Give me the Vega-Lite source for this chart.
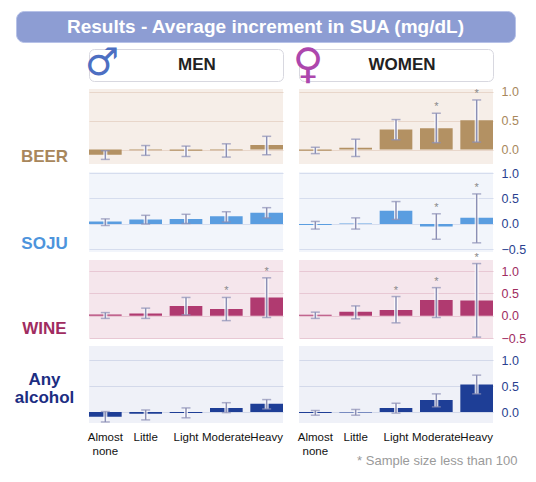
{
  "$schema": "https://vega.github.io/schema/vega-lite/v6.json",
  "background": "#ffffff",
  "padding": {"left": 14, "top": 10, "right": 5, "bottom": 0},
  "spacing": 0,
  "config": {
    "view": {"stroke": null},
    "font": "Liberation Sans",
    "axis": {"domain": false, "ticks": false, "labelOverlap": false, "gridOpacity": 1}
  },
  "datasets": {
    "d": [
      {"drink": "Beer", "sex": "Men", "level": "Almost none", "v": -0.09, "lo": -0.17, "hi": -0.02, "small": false},
      {"drink": "Beer", "sex": "Men", "level": "Little", "v": -0.01, "lo": -0.10, "hi": 0.07, "small": false},
      {"drink": "Beer", "sex": "Men", "level": "Light", "v": -0.02, "lo": -0.12, "hi": 0.06, "small": false},
      {"drink": "Beer", "sex": "Men", "level": "Moderate", "v": -0.01, "lo": -0.13, "hi": 0.10, "small": false},
      {"drink": "Beer", "sex": "Men", "level": "Heavy", "v": 0.08, "lo": -0.09, "hi": 0.23, "small": false},
      {"drink": "Beer", "sex": "Women", "level": "Almost none", "v": -0.02, "lo": -0.07, "hi": 0.04, "small": false},
      {"drink": "Beer", "sex": "Women", "level": "Little", "v": 0.03, "lo": -0.12, "hi": 0.18, "small": false},
      {"drink": "Beer", "sex": "Women", "level": "Light", "v": 0.35, "lo": 0.17, "hi": 0.52, "small": false},
      {"drink": "Beer", "sex": "Women", "level": "Moderate", "v": 0.37, "lo": 0.12, "hi": 0.63, "small": true},
      {"drink": "Beer", "sex": "Women", "level": "Heavy", "v": 0.51, "lo": 0.13, "hi": 0.86, "small": true},
      {"drink": "Soju", "sex": "Men", "level": "Almost none", "v": 0.05, "lo": -0.03, "hi": 0.10, "small": false},
      {"drink": "Soju", "sex": "Men", "level": "Little", "v": 0.09, "lo": 0.00, "hi": 0.17, "small": false},
      {"drink": "Soju", "sex": "Men", "level": "Light", "v": 0.10, "lo": 0.01, "hi": 0.19, "small": false},
      {"drink": "Soju", "sex": "Men", "level": "Moderate", "v": 0.15, "lo": 0.04, "hi": 0.24, "small": false},
      {"drink": "Soju", "sex": "Men", "level": "Heavy", "v": 0.22, "lo": 0.12, "hi": 0.32, "small": false},
      {"drink": "Soju", "sex": "Women", "level": "Almost none", "v": -0.02, "lo": -0.10, "hi": 0.05, "small": false},
      {"drink": "Soju", "sex": "Women", "level": "Little", "v": 0.01, "lo": -0.10, "hi": 0.12, "small": false},
      {"drink": "Soju", "sex": "Women", "level": "Light", "v": 0.26, "lo": 0.09, "hi": 0.44, "small": false},
      {"drink": "Soju", "sex": "Women", "level": "Moderate", "v": -0.05, "lo": -0.30, "hi": 0.20, "small": true},
      {"drink": "Soju", "sex": "Women", "level": "Heavy", "v": 0.12, "lo": -0.37, "hi": 0.59, "small": true},
      {"drink": "Wine", "sex": "Men", "level": "Almost none", "v": 0.03, "lo": -0.06, "hi": 0.07, "small": false},
      {"drink": "Wine", "sex": "Men", "level": "Little", "v": 0.05, "lo": -0.06, "hi": 0.17, "small": false},
      {"drink": "Wine", "sex": "Men", "level": "Light", "v": 0.22, "lo": 0.02, "hi": 0.41, "small": false},
      {"drink": "Wine", "sex": "Men", "level": "Moderate", "v": 0.15, "lo": -0.11, "hi": 0.41, "small": true},
      {"drink": "Wine", "sex": "Men", "level": "Heavy", "v": 0.41, "lo": -0.04, "hi": 0.85, "small": true},
      {"drink": "Wine", "sex": "Women", "level": "Almost none", "v": 0.02, "lo": -0.06, "hi": 0.08, "small": false},
      {"drink": "Wine", "sex": "Women", "level": "Little", "v": 0.09, "lo": -0.07, "hi": 0.22, "small": false},
      {"drink": "Wine", "sex": "Women", "level": "Light", "v": 0.13, "lo": -0.16, "hi": 0.43, "small": true},
      {"drink": "Wine", "sex": "Women", "level": "Moderate", "v": 0.35, "lo": -0.04, "hi": 0.63, "small": true},
      {"drink": "Wine", "sex": "Women", "level": "Heavy", "v": 0.34, "lo": -0.48, "hi": 1.17, "small": true},
      {"drink": "Any", "sex": "Men", "level": "Almost none", "v": -0.09, "lo": -0.19, "hi": 0.01, "small": false},
      {"drink": "Any", "sex": "Men", "level": "Little", "v": -0.03, "lo": -0.15, "hi": 0.04, "small": false},
      {"drink": "Any", "sex": "Men", "level": "Light", "v": -0.02, "lo": -0.11, "hi": 0.08, "small": false},
      {"drink": "Any", "sex": "Men", "level": "Moderate", "v": 0.08, "lo": -0.01, "hi": 0.18, "small": false},
      {"drink": "Any", "sex": "Men", "level": "Heavy", "v": 0.16, "lo": 0.06, "hi": 0.24, "small": false},
      {"drink": "Any", "sex": "Women", "level": "Almost none", "v": -0.02, "lo": -0.06, "hi": 0.03, "small": false},
      {"drink": "Any", "sex": "Women", "level": "Little", "v": -0.01, "lo": -0.06, "hi": 0.05, "small": false},
      {"drink": "Any", "sex": "Women", "level": "Light", "v": 0.08, "lo": -0.02, "hi": 0.17, "small": false},
      {"drink": "Any", "sex": "Women", "level": "Moderate", "v": 0.23, "lo": 0.10, "hi": 0.35, "small": false},
      {"drink": "Any", "sex": "Women", "level": "Heavy", "v": 0.53, "lo": 0.35, "hi": 0.71, "small": false}
    ]
  },
  "vconcat": [
    {
      "width": 499, "height": 31,
      "view": {"fill": "#8d9dd3", "stroke": "#b7c2e8", "cornerRadius": 8},
      "data": {"values": [{"t": "Results - Average increment in SUA (mg/dL)"}]},
      "mark": {"type": "text", "color": "white", "fontSize": 19, "fontWeight": "bold", "baseline": "middle"},
      "encoding": {"text": {"field": "t"}}
    },
    {
      "columns": 3,
      "bounds": "flush",
      "spacing": {"row": 8, "column": 16},
      "concat": [
        {
          "width": 57, "height": 32,
          "data": {"values": [{"t": ""}]},
          "mark": "text",
          "encoding": {"text": {"field": "t"}}
        },
        {
          "width": 194, "height": 32,
          "view": {"fill": "white", "stroke": "#d8d8e0", "cornerRadius": 5},
          "data": {"values": [{"t": "MEN", "s": "♂"}]},
          "layer": [
            {"mark": {"type": "text", "fontSize": 17, "fontWeight": "bold", "color": "#222", "baseline": "middle", "dx": 11}, "encoding": {"text": {"field": "t"}}},
            {"mark": {"type": "text", "fontSize": 38, "font": "DejaVu Sans", "color": "#4d6fc2", "baseline": "middle", "dx": -84, "dy": -1}, "encoding": {"text": {"field": "s"}}}
          ]
        },
        {
          "width": 194, "height": 32,
          "view": {"fill": "white", "stroke": "#d8d8e0", "cornerRadius": 5},
          "data": {"values": [{"t": "WOMEN", "s": "♀"}]},
          "layer": [
            {"mark": {"type": "text", "fontSize": 17, "fontWeight": "bold", "color": "#222", "baseline": "middle", "dx": 6}, "encoding": {"text": {"field": "t"}}},
            {"mark": {"type": "text", "fontSize": 42, "font": "DejaVu Sans", "color": "#ad47ad", "baseline": "middle", "dx": -88, "dy": 0}, "encoding": {"text": {"field": "s"}}}
          ]
        },
        {
          "width": 57, "height": 75,
          "data": {"values": [{"t": "BEER"}]},
          "mark": {"type": "text", "fontSize": 17, "fontWeight": "bold", "color": "#a8875c", "baseline": "middle", "dy": 30},
          "encoding": {"text": {"field": "t"}}
        },
        {
          "width": 194, "height": 75,
          "view": {"fill": "#f6eee8"},
          "data": {"name": "d"},
          "transform": [{"filter": "datum.drink == 'Beer' && datum.sex == 'Men'"}],
          "encoding": {"x": {"field": "level", "type": "nominal", "sort": ["Almost none", "Little", "Light", "Moderate", "Heavy"], "axis": null, "scale": {"paddingInner": 0.19, "paddingOuter": 0}}},
          "layer": [
            {"mark": {"type": "bar", "color": "#b39163"}, "encoding": {"y": {"field": "v", "type": "quantitative", "title": null, "scale": {"domain": [-0.25, 1.05], "nice": false, "zero": false}, "axis": {"values": [0, 0.5, 1], "tickCount": 10, "labels": false, "gridColor": "#e8d6ca"}}}},
            {"mark": {"type": "rule", "color": "white", "strokeWidth": 4, "opacity": 0.8}, "encoding": {"y": {"field": "lo", "type": "quantitative", "title": null}, "y2": {"field": "hi"}}},
            {"mark": {"type": "rule", "color": "#8b8fb5", "strokeWidth": 1.5}, "encoding": {"y": {"field": "lo", "type": "quantitative", "title": null}, "y2": {"field": "hi"}}},
            {"mark": {"type": "tick", "color": "#8b8fb5", "thickness": 1.5, "size": 9}, "encoding": {"y": {"field": "lo", "type": "quantitative", "title": null}}},
            {"mark": {"type": "tick", "color": "#8b8fb5", "thickness": 1.5, "size": 9}, "encoding": {"y": {"field": "hi", "type": "quantitative", "title": null}}},
            {"transform": [{"filter": "datum.small"}], "mark": {"type": "text", "text": "*", "color": "#888", "fontSize": 11, "baseline": "bottom", "dy": -1}, "encoding": {"y": {"field": "hi", "type": "quantitative", "title": null}}}
          ]
        },
        {
          "width": 194, "height": 75,
          "view": {"fill": "#f6eee8"},
          "data": {"name": "d"},
          "transform": [{"filter": "datum.drink == 'Beer' && datum.sex == 'Women'"}],
          "encoding": {"x": {"field": "level", "type": "nominal", "sort": ["Almost none", "Little", "Light", "Moderate", "Heavy"], "axis": null, "scale": {"paddingInner": 0.19, "paddingOuter": 0}}},
          "layer": [
            {"mark": {"type": "bar", "color": "#b39163"}, "encoding": {"y": {"field": "v", "type": "quantitative", "title": null, "scale": {"domain": [-0.25, 1.05], "nice": false, "zero": false}, "axis": {"orient": "right", "values": [0, 0.5, 1], "tickCount": 10, "format": ".1f", "labelColor": "#a8875c", "labelFontSize": 12.5, "labelPadding": 8, "gridColor": "#e8d6ca"}}}},
            {"mark": {"type": "rule", "color": "white", "strokeWidth": 4, "opacity": 0.8}, "encoding": {"y": {"field": "lo", "type": "quantitative", "title": null}, "y2": {"field": "hi"}}},
            {"mark": {"type": "rule", "color": "#8b8fb5", "strokeWidth": 1.5}, "encoding": {"y": {"field": "lo", "type": "quantitative", "title": null}, "y2": {"field": "hi"}}},
            {"mark": {"type": "tick", "color": "#8b8fb5", "thickness": 1.5, "size": 9}, "encoding": {"y": {"field": "lo", "type": "quantitative", "title": null}}},
            {"mark": {"type": "tick", "color": "#8b8fb5", "thickness": 1.5, "size": 9}, "encoding": {"y": {"field": "hi", "type": "quantitative", "title": null}}},
            {"transform": [{"filter": "datum.small"}], "mark": {"type": "text", "text": "*", "color": "#888", "fontSize": 11, "baseline": "bottom", "dy": -1}, "encoding": {"y": {"field": "hi", "type": "quantitative", "title": null}}}
          ]
        },
        {
          "width": 57, "height": 80,
          "data": {"values": [{"t": "SOJU"}]},
          "mark": {"type": "text", "fontSize": 17, "fontWeight": "bold", "color": "#4d94dc", "baseline": "middle", "dy": 32},
          "encoding": {"text": {"field": "t"}}
        },
        {
          "width": 194, "height": 80,
          "view": {"fill": "#f2f5fb"},
          "data": {"name": "d"},
          "transform": [{"filter": "datum.drink == 'Soju' && datum.sex == 'Men'"}],
          "encoding": {"x": {"field": "level", "type": "nominal", "sort": ["Almost none", "Little", "Light", "Moderate", "Heavy"], "axis": null, "scale": {"paddingInner": 0.19, "paddingOuter": 0}}},
          "layer": [
            {"mark": {"type": "bar", "color": "#5a9de0"}, "encoding": {"y": {"field": "v", "type": "quantitative", "title": null, "scale": {"domain": [-0.55, 1.02], "nice": false, "zero": false}, "axis": {"values": [-0.5, 0, 0.5, 1], "tickCount": 10, "labels": false, "gridColor": "#d6ddee"}}}},
            {"mark": {"type": "rule", "color": "white", "strokeWidth": 4, "opacity": 0.8}, "encoding": {"y": {"field": "lo", "type": "quantitative", "title": null}, "y2": {"field": "hi"}}},
            {"mark": {"type": "rule", "color": "#8b8fb5", "strokeWidth": 1.5}, "encoding": {"y": {"field": "lo", "type": "quantitative", "title": null}, "y2": {"field": "hi"}}},
            {"mark": {"type": "tick", "color": "#8b8fb5", "thickness": 1.5, "size": 9}, "encoding": {"y": {"field": "lo", "type": "quantitative", "title": null}}},
            {"mark": {"type": "tick", "color": "#8b8fb5", "thickness": 1.5, "size": 9}, "encoding": {"y": {"field": "hi", "type": "quantitative", "title": null}}},
            {"transform": [{"filter": "datum.small"}], "mark": {"type": "text", "text": "*", "color": "#888", "fontSize": 11, "baseline": "bottom", "dy": -1}, "encoding": {"y": {"field": "hi", "type": "quantitative", "title": null}}}
          ]
        },
        {
          "width": 194, "height": 80,
          "view": {"fill": "#f2f5fb"},
          "data": {"name": "d"},
          "transform": [{"filter": "datum.drink == 'Soju' && datum.sex == 'Women'"}],
          "encoding": {"x": {"field": "level", "type": "nominal", "sort": ["Almost none", "Little", "Light", "Moderate", "Heavy"], "axis": null, "scale": {"paddingInner": 0.19, "paddingOuter": 0}}},
          "layer": [
            {"mark": {"type": "bar", "color": "#5a9de0"}, "encoding": {"y": {"field": "v", "type": "quantitative", "title": null, "scale": {"domain": [-0.55, 1.02], "nice": false, "zero": false}, "axis": {"orient": "right", "values": [-0.5, 0, 0.5, 1], "tickCount": 10, "format": ".1f", "labelColor": "#2a3f8f", "labelFontSize": 12.5, "labelPadding": 8, "gridColor": "#d6ddee"}}}},
            {"mark": {"type": "rule", "color": "white", "strokeWidth": 4, "opacity": 0.8}, "encoding": {"y": {"field": "lo", "type": "quantitative", "title": null}, "y2": {"field": "hi"}}},
            {"mark": {"type": "rule", "color": "#8b8fb5", "strokeWidth": 1.5}, "encoding": {"y": {"field": "lo", "type": "quantitative", "title": null}, "y2": {"field": "hi"}}},
            {"mark": {"type": "tick", "color": "#8b8fb5", "thickness": 1.5, "size": 9}, "encoding": {"y": {"field": "lo", "type": "quantitative", "title": null}}},
            {"mark": {"type": "tick", "color": "#8b8fb5", "thickness": 1.5, "size": 9}, "encoding": {"y": {"field": "hi", "type": "quantitative", "title": null}}},
            {"transform": [{"filter": "datum.small"}], "mark": {"type": "text", "text": "*", "color": "#888", "fontSize": 11, "baseline": "bottom", "dy": -1}, "encoding": {"y": {"field": "hi", "type": "quantitative", "title": null}}}
          ]
        },
        {
          "width": 57, "height": 78,
          "data": {"values": [{"t": "WINE"}]},
          "mark": {"type": "text", "fontSize": 17, "fontWeight": "bold", "color": "#a02c5f", "baseline": "middle", "dy": 30},
          "encoding": {"text": {"field": "t"}}
        },
        {
          "width": 194, "height": 78,
          "view": {"fill": "#f5e6ec"},
          "data": {"name": "d"},
          "transform": [{"filter": "datum.drink == 'Wine' && datum.sex == 'Men'"}],
          "encoding": {"x": {"field": "level", "type": "nominal", "sort": ["Almost none", "Little", "Light", "Moderate", "Heavy"], "axis": null, "scale": {"paddingInner": 0.19, "paddingOuter": 0}}},
          "layer": [
            {"mark": {"type": "bar", "color": "#b03a70"}, "encoding": {"y": {"field": "v", "type": "quantitative", "title": null, "scale": {"domain": [-0.5, 1.25], "nice": false, "zero": false}, "axis": {"values": [-0.5, 0, 0.5, 1], "tickCount": 10, "labels": false, "gridColor": "#e8c8d4"}}}},
            {"mark": {"type": "rule", "color": "white", "strokeWidth": 4, "opacity": 0.8}, "encoding": {"y": {"field": "lo", "type": "quantitative", "title": null}, "y2": {"field": "hi"}}},
            {"mark": {"type": "rule", "color": "#8b8fb5", "strokeWidth": 1.5}, "encoding": {"y": {"field": "lo", "type": "quantitative", "title": null}, "y2": {"field": "hi"}}},
            {"mark": {"type": "tick", "color": "#8b8fb5", "thickness": 1.5, "size": 9}, "encoding": {"y": {"field": "lo", "type": "quantitative", "title": null}}},
            {"mark": {"type": "tick", "color": "#8b8fb5", "thickness": 1.5, "size": 9}, "encoding": {"y": {"field": "hi", "type": "quantitative", "title": null}}},
            {"transform": [{"filter": "datum.small"}], "mark": {"type": "text", "text": "*", "color": "#888", "fontSize": 11, "baseline": "bottom", "dy": -1}, "encoding": {"y": {"field": "hi", "type": "quantitative", "title": null}}}
          ]
        },
        {
          "width": 194, "height": 78,
          "view": {"fill": "#f5e6ec"},
          "data": {"name": "d"},
          "transform": [{"filter": "datum.drink == 'Wine' && datum.sex == 'Women'"}],
          "encoding": {"x": {"field": "level", "type": "nominal", "sort": ["Almost none", "Little", "Light", "Moderate", "Heavy"], "axis": null, "scale": {"paddingInner": 0.19, "paddingOuter": 0}}},
          "layer": [
            {"mark": {"type": "bar", "color": "#b03a70"}, "encoding": {"y": {"field": "v", "type": "quantitative", "title": null, "scale": {"domain": [-0.5, 1.25], "nice": false, "zero": false}, "axis": {"orient": "right", "values": [-0.5, 0, 0.5, 1], "tickCount": 10, "format": ".1f", "labelColor": "#a02c5f", "labelFontSize": 12.5, "labelPadding": 8, "gridColor": "#e8c8d4"}}}},
            {"mark": {"type": "rule", "color": "white", "strokeWidth": 4, "opacity": 0.8}, "encoding": {"y": {"field": "lo", "type": "quantitative", "title": null}, "y2": {"field": "hi"}}},
            {"mark": {"type": "rule", "color": "#8b8fb5", "strokeWidth": 1.5}, "encoding": {"y": {"field": "lo", "type": "quantitative", "title": null}, "y2": {"field": "hi"}}},
            {"mark": {"type": "tick", "color": "#8b8fb5", "thickness": 1.5, "size": 9}, "encoding": {"y": {"field": "lo", "type": "quantitative", "title": null}}},
            {"mark": {"type": "tick", "color": "#8b8fb5", "thickness": 1.5, "size": 9}, "encoding": {"y": {"field": "hi", "type": "quantitative", "title": null}}},
            {"transform": [{"filter": "datum.small"}], "mark": {"type": "text", "text": "*", "color": "#888", "fontSize": 11, "baseline": "bottom", "dy": -1}, "encoding": {"y": {"field": "hi", "type": "quantitative", "title": null}}}
          ]
        },
        {
          "width": 57, "height": 77,
          "data": {"values": [{"t": "Any\nalcohol"}]},
          "mark": {"type": "text", "fontSize": 17, "fontWeight": "bold", "color": "#1c2d82", "baseline": "middle", "lineBreak": "\n", "lineHeight": 18, "dy": -5},
          "encoding": {"text": {"field": "t"}}
        },
        {
          "width": 194, "height": 77,
          "view": {"fill": "#eff1f8"},
          "data": {"name": "d"},
          "transform": [{"filter": "datum.drink == 'Any' && datum.sex == 'Men'"}],
          "encoding": {"x": {"field": "level", "type": "nominal", "sort": ["Almost none", "Little", "Light", "Moderate", "Heavy"], "scale": {"paddingInner": 0.19, "paddingOuter": 0}, "axis": {"title": null, "labelAngle": 0, "labelFontSize": 11.5, "labelColor": "#111", "labelPadding": 8, "labelLineHeight": 14, "labelExpr": "datum.value == 'Almost none' ? ['Almost', 'none'] : datum.value"}}},
          "layer": [
            {"mark": {"type": "bar", "color": "#1e3e96"}, "encoding": {"y": {"field": "v", "type": "quantitative", "title": null, "scale": {"domain": [-0.21, 1.27], "nice": false, "zero": false}, "axis": {"values": [0, 0.5, 1], "tickCount": 10, "labels": false, "gridColor": "#d3d9ea"}}}},
            {"mark": {"type": "rule", "color": "white", "strokeWidth": 4, "opacity": 0.8}, "encoding": {"y": {"field": "lo", "type": "quantitative", "title": null}, "y2": {"field": "hi"}}},
            {"mark": {"type": "rule", "color": "#8b8fb5", "strokeWidth": 1.5}, "encoding": {"y": {"field": "lo", "type": "quantitative", "title": null}, "y2": {"field": "hi"}}},
            {"mark": {"type": "tick", "color": "#8b8fb5", "thickness": 1.5, "size": 9}, "encoding": {"y": {"field": "lo", "type": "quantitative", "title": null}}},
            {"mark": {"type": "tick", "color": "#8b8fb5", "thickness": 1.5, "size": 9}, "encoding": {"y": {"field": "hi", "type": "quantitative", "title": null}}}
          ]
        },
        {
          "width": 194, "height": 77,
          "view": {"fill": "#eff1f8"},
          "data": {"name": "d"},
          "transform": [{"filter": "datum.drink == 'Any' && datum.sex == 'Women'"}],
          "encoding": {"x": {"field": "level", "type": "nominal", "sort": ["Almost none", "Little", "Light", "Moderate", "Heavy"], "scale": {"paddingInner": 0.19, "paddingOuter": 0}, "axis": {"title": "* Sample size less than 100", "titleColor": "#9a9a9a", "titleFontWeight": "normal", "titleFontSize": 13, "titleAnchor": "end", "titleAlign": "right", "titleX": 218, "titlePadding": -2, "labelAngle": 0, "labelFontSize": 11.5, "labelColor": "#111", "labelPadding": 8, "labelLineHeight": 14, "labelExpr": "datum.value == 'Almost none' ? ['Almost', 'none'] : datum.value"}}},
          "layer": [
            {"mark": {"type": "bar", "color": "#1e3e96"}, "encoding": {"y": {"field": "v", "type": "quantitative", "title": null, "scale": {"domain": [-0.21, 1.27], "nice": false, "zero": false}, "axis": {"orient": "right", "values": [0, 0.5, 1], "tickCount": 10, "format": ".1f", "labelColor": "#2a3f8f", "labelFontSize": 12.5, "labelPadding": 8, "gridColor": "#d3d9ea"}}}},
            {"mark": {"type": "rule", "color": "white", "strokeWidth": 4, "opacity": 0.8}, "encoding": {"y": {"field": "lo", "type": "quantitative", "title": null}, "y2": {"field": "hi"}}},
            {"mark": {"type": "rule", "color": "#8b8fb5", "strokeWidth": 1.5}, "encoding": {"y": {"field": "lo", "type": "quantitative", "title": null}, "y2": {"field": "hi"}}},
            {"mark": {"type": "tick", "color": "#8b8fb5", "thickness": 1.5, "size": 9}, "encoding": {"y": {"field": "lo", "type": "quantitative", "title": null}}},
            {"mark": {"type": "tick", "color": "#8b8fb5", "thickness": 1.5, "size": 9}, "encoding": {"y": {"field": "hi", "type": "quantitative", "title": null}}}
          ]
        }
      ]
    }
  ]
}
